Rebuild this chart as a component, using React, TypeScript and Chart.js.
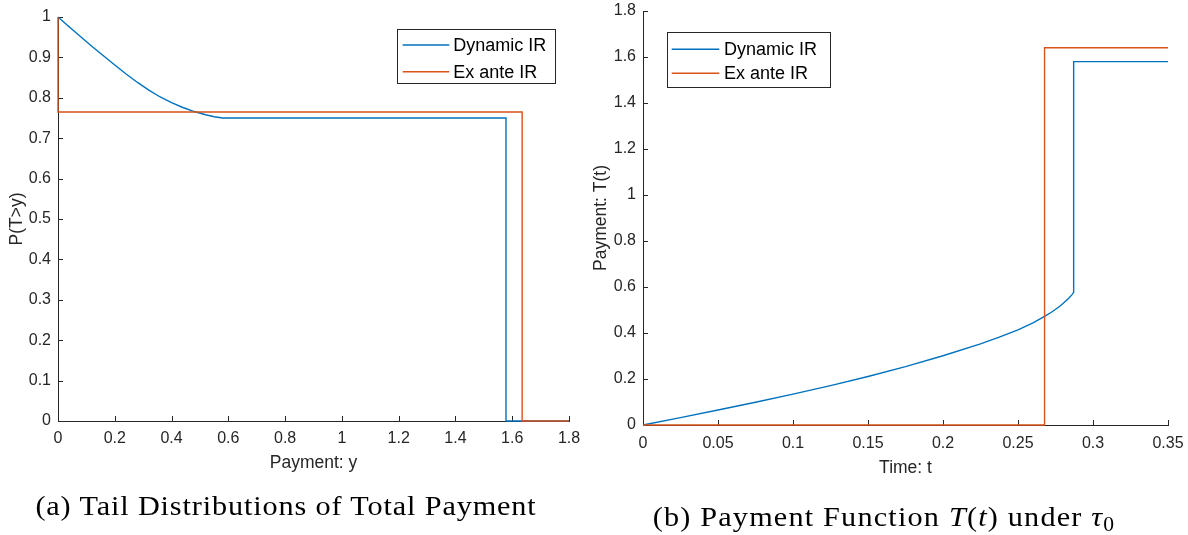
import React, { useEffect, useRef } from "react";
import { Chart, registerables } from "chart.js";
Chart.register(...registerables);

const BLUE = "#0072BD";
const ORANGE = "#D95319";
const AXIS = "#262626";
const SANS = "'Liberation Sans', Arial, Helvetica, sans-serif";
const SERIF = "'Liberation Serif', 'Times New Roman', serif";

// ---- Panel (a): tail distributions of total payment ----
const seriesNames = ["Dynamic IR", "Ex ante IR"];
const tailDynamicY = [0, 0.04, 0.08, 0.12, 0.16, 0.2, 0.24, 0.28, 0.32, 0.36, 0.4, 0.44, 0.48, 0.52, 0.55, 0.58, 1.578, 1.578, 1.8];
const tailDynamicP = [1, 0.975, 0.951, 0.927, 0.904, 0.881, 0.859, 0.838, 0.819, 0.802, 0.788, 0.776, 0.766, 0.758, 0.753, 0.75, 0.75, 0, 0];
const tailExAnteY = [0, 0, 1.635, 1.635, 1.8];
const tailExAnteP = [1, 0.765, 0.765, 0, 0];
const tailXTicks = [0, 0.2, 0.4, 0.6, 0.8, 1, 1.2, 1.4, 1.6, 1.8];
const tailYTicks = [0, 0.1, 0.2, 0.3, 0.4, 0.5, 0.6, 0.7, 0.8, 0.9, 1];

// ---- Panel (b): payment function T(t) under tau_0 ----
const payDynamicT = [0, 0.025, 0.05, 0.075, 0.1, 0.125, 0.15, 0.175, 0.2, 0.225, 0.2375, 0.25, 0.26, 0.2677, 0.272, 0.277, 0.28, 0.284, 0.286, 0.2871, 0.2871, 0.35];
const payDynamicV = [0, 0.032, 0.065, 0.099, 0.134, 0.171, 0.211, 0.254, 0.301, 0.353, 0.382, 0.414, 0.444, 0.472, 0.489, 0.512, 0.528, 0.552, 0.567, 0.577, 1.58, 1.58];
const payExAnteT = [0, 0.2677, 0.2677, 0.35];
const payExAnteV = [0, 0, 1.64, 1.64];
const payXTicks = [0, 0.05, 0.1, 0.15, 0.2, 0.25, 0.3, 0.35];
const payYTicks = [0, 0.2, 0.4, 0.6, 0.8, 1, 1.2, 1.4, 1.6, 1.8];

const zip = (xs: number[], ys: number[]) => xs.map((x, i) => ({ x, y: ys[i] }));

const inwardTicks = {
  id: "inwardTicks",
  beforeDatasetsDraw(chart: any) {
    const { ctx, chartArea, scales } = chart;
    const len = 5;
    ctx.save();
    ctx.strokeStyle = AXIS;
    ctx.lineWidth = 1;
    scales.x.ticks.forEach((t: any) => {
      const px = Math.round(scales.x.getPixelForValue(t.value)) + 0.5;
      ctx.beginPath();
      ctx.moveTo(px, chartArea.bottom);
      ctx.lineTo(px, chartArea.bottom - len);
      ctx.stroke();
    });
    scales.y.ticks.forEach((t: any) => {
      const py = Math.round(scales.y.getPixelForValue(t.value)) + 0.5;
      ctx.beginPath();
      ctx.moveTo(chartArea.left, py);
      ctx.lineTo(chartArea.left + len, py);
      ctx.stroke();
    });
    ctx.restore();
  },
};

const boxLegend = {
  id: "boxLegend",
  afterDraw(chart: any, _args: any, opts: any) {
    const { ctx } = chart;
    ctx.save();
    ctx.fillStyle = "#ffffff";
    ctx.fillRect(opts.x, opts.y, opts.w, opts.h);
    ctx.strokeStyle = AXIS;
    ctx.lineWidth = 1;
    ctx.strokeRect(Math.round(opts.x) + 0.5, Math.round(opts.y) + 0.5, Math.round(opts.w), Math.round(opts.h));
    ctx.font = `${opts.fontSize}px ${SANS}`;
    ctx.textBaseline = "middle";
    ctx.textAlign = "left";
    opts.rows.forEach((r: any) => {
      ctx.strokeStyle = r.color;
      ctx.lineWidth = 1.5;
      ctx.beginPath();
      ctx.moveTo(opts.lineX0, r.y);
      ctx.lineTo(opts.lineX1, r.y);
      ctx.stroke();
      ctx.fillStyle = "#000000";
      ctx.fillText(r.label, opts.textX, r.y + 1);
    });
    ctx.restore();
  },
};

function makeConfig(p: any) {
  return {
    type: "scatter",
    data: {
      datasets: [
        {
          label: seriesNames[0],
          data: p.dyn,
          showLine: true,
          borderColor: BLUE,
          backgroundColor: BLUE,
          borderWidth: 1.4,
          pointRadius: 0,
          tension: 0,
          clip: false,
          order: 1,
        },
        {
          label: seriesNames[1],
          data: p.exa,
          showLine: true,
          borderColor: ORANGE,
          backgroundColor: ORANGE,
          borderWidth: 1.4,
          pointRadius: 0,
          tension: 0,
          clip: false,
          order: 0,
        },
      ],
    },
    options: {
      animation: false,
      responsive: false,
      maintainAspectRatio: false,
      events: [],
      layout: { padding: { left: 0, top: p.padTop, right: p.padRight, bottom: 0 } },
      plugins: {
        legend: { display: false },
        tooltip: { enabled: false },
        boxLegend: p.legend,
      },
      scales: {
        x: {
          type: "linear",
          min: p.xMin,
          max: p.xMax,
          grid: { display: false, drawTicks: false },
          border: { display: true, color: AXIS, width: 1 },
          afterBuildTicks: (s: any) => {
            s.ticks = p.xTicks.map((v: number) => ({ value: v }));
          },
          afterFit: (s: any) => {
            s.height = p.xAxisH;
            s.paddingLeft = 0;
            s.paddingRight = 0;
          },
          ticks: {
            autoSkip: false,
            maxRotation: 0,
            padding: p.xTickPad,
            color: AXIS,
            font: { family: SANS, size: 16 },
            callback: (v: number) => String(v),
          },
          title: {
            display: true,
            text: p.xTitle,
            color: AXIS,
            font: { family: SANS, size: 17.5 },
            padding: { top: 0, bottom: p.xTitlePad },
          },
        },
        y: {
          type: "linear",
          min: p.yMin,
          max: p.yMax,
          grid: { display: false, drawTicks: false },
          border: { display: true, color: AXIS, width: 1 },
          afterBuildTicks: (s: any) => {
            s.ticks = p.yTicks.map((v: number) => ({ value: v }));
          },
          afterFit: (s: any) => {
            s.width = p.yAxisW;
            s.paddingTop = 0;
            s.paddingBottom = 0;
          },
          ticks: {
            autoSkip: false,
            padding: 7,
            color: AXIS,
            font: { family: SANS, size: 16 },
            callback: (v: number) => String(v),
          },
          title: {
            display: true,
            text: p.yTitle,
            color: AXIS,
            font: { family: SANS, size: 17.5 },
            padding: { top: p.yTitlePad, bottom: 0 },
          },
        },
      },
    },
    plugins: [inwardTicks, boxLegend],
  };
}

function Panel(props: { left: number; width: number; cfg: any }) {
  const ref = useRef<HTMLCanvasElement | null>(null);
  useEffect(() => {
    if (!ref.current) return;
    const chart = new Chart(ref.current, props.cfg as any);
    return () => chart.destroy();
  }, []);
  return (
    <canvas
      ref={ref}
      width={props.width}
      height={535}
      style={{ position: "absolute", left: props.left, top: 0, width: props.width, height: 535 }}
    />
  );
}

export default function App() {
  const cfgA = makeConfig({
    dyn: zip(tailDynamicY, tailDynamicP),
    exa: zip(tailExAnteY, tailExAnteP),
    xMin: 0,
    xMax: 1.8,
    yMin: 0,
    yMax: 1,
    xTicks: tailXTicks,
    yTicks: tailYTicks,
    padTop: 17,
    padRight: 21,
    yAxisW: 58,
    xAxisH: 114,
    xTickPad: 8,
    xTitle: "Payment: y",
    yTitle: "P(T>y)",
    xTitlePad: 61,
    yTitlePad: 6.5,
    legend: {
      x: 397.3,
      y: 29.3,
      w: 158.4,
      h: 54,
      lineX0: 402.7,
      lineX1: 449.3,
      textX: 453.3,
      fontSize: 18,
      rows: [
        { label: seriesNames[0], color: BLUE, y: 45 },
        { label: seriesNames[1], color: ORANGE, y: 71.7 },
      ],
    },
  });
  const cfgB = makeConfig({
    dyn: zip(payDynamicT, payDynamicV),
    exa: zip(payExAnteT, payExAnteV),
    xMin: 0,
    xMax: 0.35,
    yMin: 0,
    yMax: 1.8,
    xTicks: payXTicks,
    yTicks: payYTicks,
    padTop: 11,
    padRight: 20,
    yAxisW: 53,
    xAxisH: 110,
    xTickPad: 9,
    xTitle: "Time: t",
    yTitle: "Payment: T(t)",
    xTitlePad: 56,
    yTitlePad: 1,
    legend: {
      x: 76.7,
      y: 32,
      w: 162.6,
      h: 54.7,
      lineX0: 81.7,
      lineX1: 129.3,
      textX: 134,
      fontSize: 18,
      rows: [
        { label: seriesNames[0], color: BLUE, y: 49.3 },
        { label: seriesNames[1], color: ORANGE, y: 73.3 },
      ],
    },
  });

  const capStyle: React.CSSProperties = {
    position: "absolute",
    fontFamily: SERIF,
    fontSize: 28,
    lineHeight: "32px",
    textAlign: "center",
    color: "#000",
    whiteSpace: "nowrap",
    letterSpacing: "0.8px",
    transform: "scaleX(1.08)",
    transformOrigin: "50% 50%",
  };

  return (
    <div style={{ position: "absolute", left: 0, top: 0, width: 1188, height: 535, background: "#fff", overflow: "hidden" }}>
      <Panel left={0} width={590} cfg={cfgA} />
      <Panel left={590} width={598} cfg={cfgB} />
      <div style={{ ...capStyle, left: 0, width: 572, top: 490 }}>(a) Tail Distributions of Total Payment</div>
      <div style={{ ...capStyle, left: 600, width: 568, top: 501, letterSpacing: "1.1px" }}>
        (b) Payment Function <i>T</i>(<i>t</i>) under <i>τ</i>
        <sub style={{ fontSize: 20, verticalAlign: "-5px", lineHeight: 0 }}>0</sub>
      </div>
    </div>
  );
}
